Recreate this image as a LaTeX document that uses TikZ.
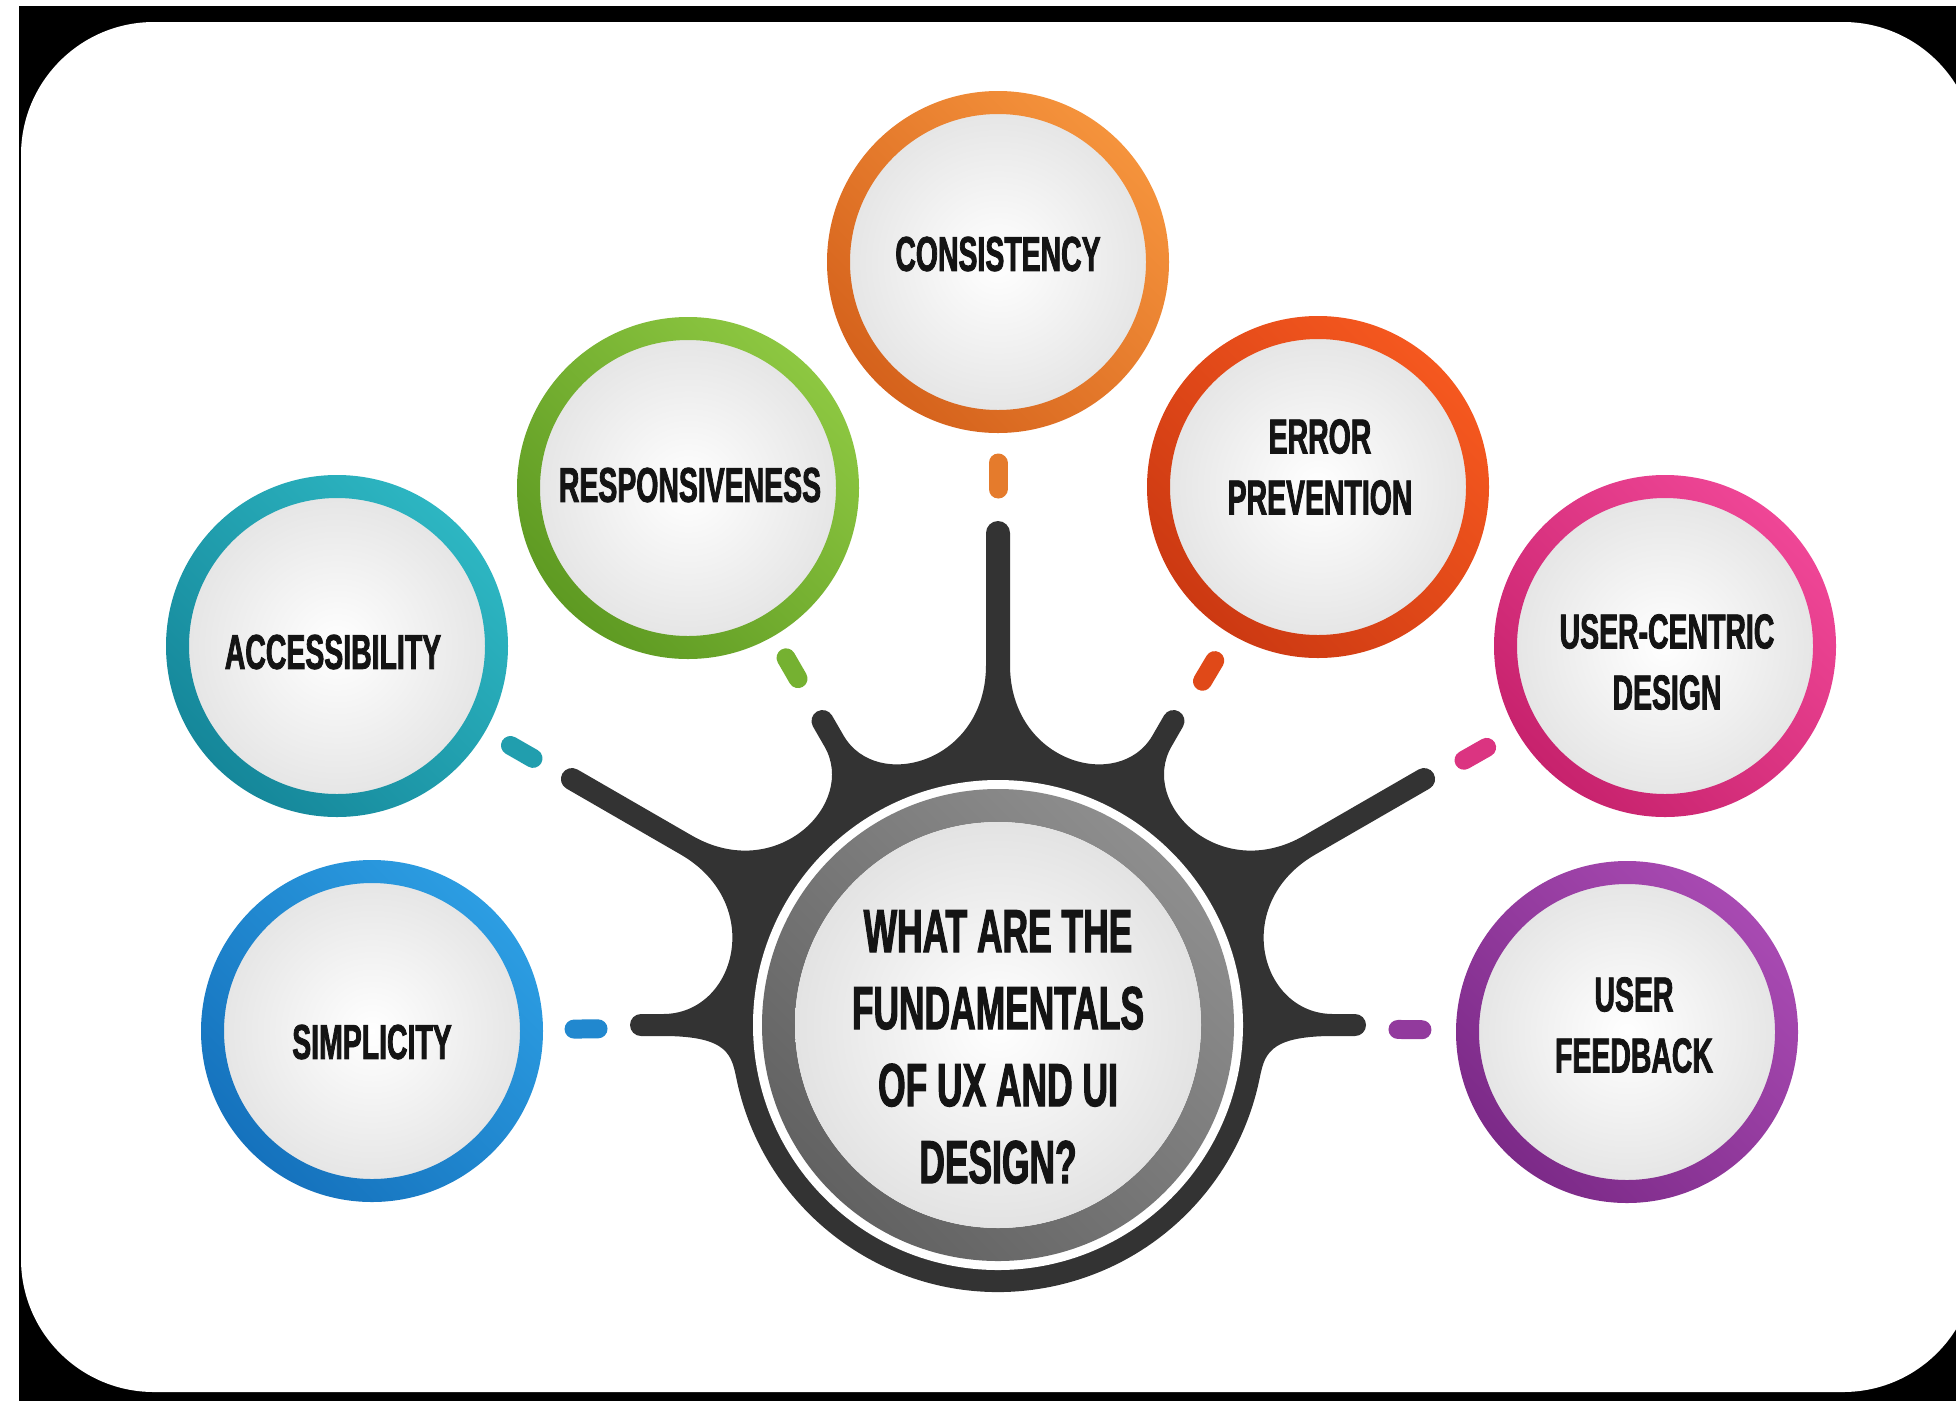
\documentclass[tikz,border=0pt]{standalone}
\usepackage{fontspec}
\setmainfont{Liberation Sans}
\newfontfamily\lblfont[FakeStretch=0.58, FakeBold=1.6]{Liberation Sans Bold}
\usetikzlibrary{calc}
\definecolor{hubdark}{HTML}{333333}
\definecolor{accL}{HTML}{2DB6C2}\definecolor{accD}{HTML}{15879A}
\definecolor{respL}{HTML}{8DC741}\definecolor{respD}{HTML}{5E9A22}
\definecolor{consL}{HTML}{F5933C}\definecolor{consD}{HTML}{D5621C}
\definecolor{errL}{HTML}{F5581F}\definecolor{errD}{HTML}{CC3912}
\definecolor{ucL}{HTML}{EF4696}\definecolor{ucD}{HTML}{C7226D}
\definecolor{fbL}{HTML}{A84AB2}\definecolor{fbD}{HTML}{7C2A88}
\definecolor{simpL}{HTML}{2C9DE2}\definecolor{simpD}{HTML}{1572BD}
\definecolor{grayL}{HTML}{8E8E8E}\definecolor{grayD}{HTML}{626262}
\newcommand\ringshade[3]{% node, light, dark
  \shade[even odd rule, top color=#2, bottom color=#3, shading angle=-45]
    (#1.center) circle[radius=171pt] circle[radius=148pt];}
\begin{document}
\begin{tikzpicture}[x=1pt,y=-1pt,
  bubble/.style={circle, minimum size=300pt, inner sep=0pt, shading=radial,
    inner color=white, outer color=black!10},
  hubcore/.style={circle, minimum size=406pt, inner sep=0pt, shading=radial,
    inner color=white, outer color=black!11},
  lbl/.style={font=\lblfont\fontsize{49}{61}\selectfont, align=center,
    inner sep=0pt, text=black!92},
  hubtxt/.style={font=\lblfont\fontsize{61}{77}\selectfont, align=center,
    inner sep=0pt, text=black!92},
  dashseg/.style={line width=19pt, line cap=round}]
\useasboundingbox (0,0) rectangle (1956,1401);
\clip (0,0) rectangle (1956,1401);
\fill[white] (0,0) rectangle (1956,1401);
\fill[black] (19,6) rectangle (1956,1401);
\fill[white, rounded corners=133pt] (21,22) rectangle (1976,1392);

% hub body with spikes (page angles, y up inside scope)
\coordinate (H) at (998,1025);
\begin{scope}[shift={(H)}, y=1pt]
\fill[hubdark]
 (-12:267) .. controls ([rotate=-12]267,25) and ([rotate=0]268,-11) .. ([rotate=0]335,-11)
 -- ([rotate=0]357,-11) arc[start angle=-90,end angle=90,radius=11pt]
 -- ([rotate=0]335,11)
 .. controls ([rotate=0]262,11) and ([rotate=30]262,-11) .. ([rotate=30]360,-11)
 -- ([rotate=30]492,-11) arc[start angle=-60,end angle=120,radius=11pt]
 -- ([rotate=30]360,11)
 .. controls ([rotate=30]262,11) and ([rotate=60]262,-11) .. ([rotate=60]328,-11)
 -- ([rotate=60]351,-11) arc[start angle=-30,end angle=150,radius=11pt]
 -- ([rotate=60]328,11)
 .. controls ([rotate=60]262,11) and ([rotate=90]262,-12) .. ([rotate=90]360,-12)
 -- ([rotate=90]492,-12) arc[start angle=0,end angle=180,radius=12pt]
 -- ([rotate=90]360,12)
 .. controls ([rotate=90]262,12) and ([rotate=120]262,-11) .. ([rotate=120]328,-11)
 -- ([rotate=120]351,-11) arc[start angle=30,end angle=210,radius=11pt]
 -- ([rotate=120]328,11)
 .. controls ([rotate=120]262,11) and ([rotate=150]262,-11) .. ([rotate=150]360,-11)
 -- ([rotate=150]492,-11) arc[start angle=60,end angle=240,radius=11pt]
 -- ([rotate=150]360,11)
 .. controls ([rotate=150]262,11) and ([rotate=180]262,-11) .. ([rotate=180]335,-11)
 -- ([rotate=180]357,-11) arc[start angle=90,end angle=270,radius=11pt]
 -- ([rotate=180]335,11)
 .. controls ([rotate=180]268,11) and ([rotate=192]267,-25) .. (192:267)
 arc[start angle=192,end angle=348,radius=267pt] -- cycle;
\end{scope}
\fill[white] (H) circle[radius=245pt];
\shade[even odd rule, top color=grayL, bottom color=grayD, shading angle=-45]
  (H) circle[radius=236pt] circle[radius=203pt];
\node[hubcore] (hub) at (H) {};
\node[hubtxt] (hubq) at (998,1047) {WHAT ARE THE\\FUNDAMENTALS\\OF UX AND UI\\DESIGN?};

% circles
\node[bubble] (cons) at (998,262) {};
\node[bubble] (resp) at (688,488) {};
\node[bubble] (err)  at (1318,487) {};
\node[bubble] (acc)  at (337,646) {};
\node[bubble] (uc)   at (1665,646) {};
\node[bubble] (simp) at (372,1031) {};
\node[bubble] (fb)   at (1627,1032) {};
\ringshade{cons}{consL}{consD}
\ringshade{resp}{respL}{respD}
\ringshade{err}{errL}{errD}
\ringshade{acc}{accL}{accD}
\ringshade{uc}{ucL}{ucD}
\ringshade{simp}{simpL}{simpD}
\ringshade{fb}{fbL}{fbD}

\node[lbl] (cons-t) at (998,254) {CONSISTENCY};
\node[lbl] (resp-t) at (690,485) {RESPONSIVENESS};
\node[lbl] (err-t)  at (1320,467) {ERROR\\PREVENTION};
\node[lbl] (acc-t)  at (333,652) {ACCESSIBILITY};
\node[lbl] (uc-t)   at (1667,662) {USER-CENTRIC\\DESIGN};
\node[lbl] (simp-t) at (372,1042) {SIMPLICITY};
\node[lbl] (fb-t)   at (1634,1025) {USER\\FEEDBACK};

% dashes
\draw[dashseg, draw=consL!50!consD] ($(H)!536pt!(cons)$) -- ($(H)!562pt!(cons)$);
\draw[dashseg, draw=accL!50!accD]   ($(H)!536pt!(acc)$)  -- ($(H)!562pt!(acc)$);
\draw[dashseg, draw=ucL!50!ucD]     ($(H)!536pt!(uc)$)   -- ($(H)!562pt!(uc)$);
\draw[dashseg, draw=respL!50!respD] ($(H)!400pt!(resp)$) -- ($(H)!424pt!(resp)$);
\draw[dashseg, draw=errL!50!errD]   ($(H)!400pt!(err)$)  -- ($(H)!424pt!(err)$);
\draw[dashseg, draw=simpL!50!simpD] ($(H)!400pt!(simp)$) -- ($(H)!424pt!(simp)$);
\draw[dashseg, draw=fbL!50!fbD]     ($(H)!400pt!(fb)$)   -- ($(H)!424pt!(fb)$);
\end{tikzpicture}
\end{document}
